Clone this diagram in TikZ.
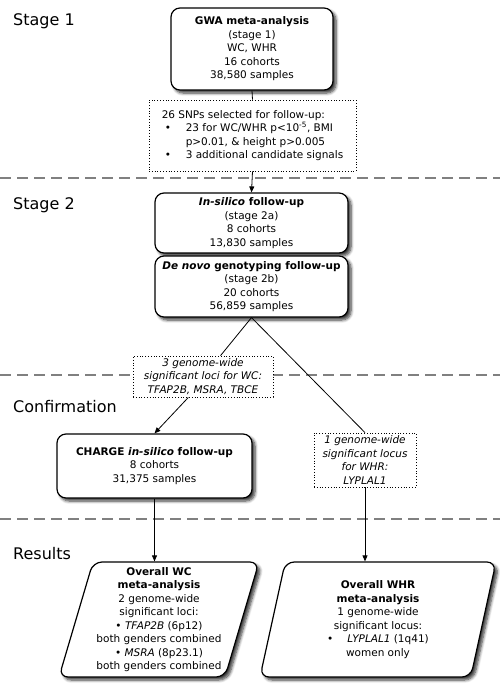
\documentclass[tikz,border=0pt]{standalone}
\usepackage{fontspec}
\setmainfont{DejaVu Sans}
\usetikzlibrary{arrows.meta,shadows.blur,shapes.geometric}

\begin{document}
\begin{tikzpicture}[x=1pt,y=-1pt,
  every node/.style={font=\fontsize{10.5}{13.5}\selectfont, align=center, inner sep=0pt},
  stagebox/.style={draw, line width=1.2pt, rounded corners=9pt, fill=white,
    blur shadow={shadow xshift=3pt, shadow yshift=-3pt, shadow blur radius=3pt,
      shadow blur steps=6, shadow opacity=80}},
  notebox/.style={draw, dotted, line width=0.8pt, fill=white},
  resultbox/.style={stagebox, trapezium, trapezium stretches body,
    trapezium left angle=72, trapezium right angle=108},
  stagelabel/.style={font=\fontsize{16}{19}\selectfont, anchor=base west},
  sep/.style={draw=gray, line width=1.6pt, dash pattern=on 11pt off 6pt},
  link/.style={line width=0.8pt},
  arr/.style={link, -{Triangle[length=6pt,width=5pt]}}]
\useasboundingbox (0,0) rectangle (500,686);

\draw [sep] (0,178) -- (500,178);
\draw [sep] (0,375) -- (500,375);
\draw [sep] (0,519) -- (500,519);

\node [stagelabel] (st1) at (13,25) {Stage 1};
\node [stagelabel] (st2) at (13,209) {Stage 2};
\node [stagelabel] (conf) at (13,412) {Confirmation};
\node [stagelabel] (res) at (13,559) {Results};

\node [stagebox, minimum width=162, minimum height=82] (gwa) at (252,49)
  {\textbf{GWA meta-analysis}\\(stage 1)\\WC, WHR\\16 cohorts\\38,580 samples};
\node [notebox, minimum width=207, minimum height=71, align=left] (snps) at (252.5,135.5)
  {26 SNPs selected for follow-up:\\
   \makebox[24pt][l]{\hspace{3pt}\textbullet}23 for WC/WHR p<10\textsuperscript{-5}, BMI\\
   \hspace*{24pt}p>0.01, \& height p>0.005\\
   \makebox[24pt][l]{\hspace{3pt}\textbullet}3 additional candidate signals};
\node [stagebox, minimum width=193, minimum height=60] (insilico) at (251.5,223)
  {\textbf{\textit{In-silico} follow-up}\\(stage 2a)\\8 cohorts\\13,830 samples};
\node [stagebox, minimum width=193, minimum height=61] (denovo) at (251.5,286.5)
  {\textbf{\textit{De novo} genotyping follow-up}\\(stage 2b)\\20 cohorts\\56,859 samples};
\node [notebox, minimum width=140, minimum height=41, font=\fontsize{10.5}{13.5}\selectfont\itshape] (wcloci) at (203,376.5)
  {3 genome-wide\\significant loci for WC:\\TFAP2B, MSRA, TBCE};
\node [notebox, minimum width=102, minimum height=54, font=\fontsize{10.5}{13.5}\selectfont\itshape] (whrlocus) at (365,460)
  {1 genome-wide\\significant locus\\for WHR:\\LYPLAL1};
\node [stagebox, minimum width=195, minimum height=64] (charge) at (154.5,466)
  {\textbf{CHARGE \textit{in-silico} follow-up}\\8 cohorts\\31,375 samples};
\node [resultbox, minimum width=200, minimum height=115] (wcres) at (159,619.5)
  {\textbf{Overall WC}\\\textbf{meta-analysis}\\2 genome-wide\\significant loci:\\
   \textbullet\ \textit{TFAP2B} (6p12)\\both genders combined\\
   \textbullet\ \textit{MSRA} (8p23.1)\\both genders combined};
\node [resultbox, minimum width=236, minimum height=115] (whrres) at (378,619.5)
  {\textbf{Overall WHR}\\\textbf{meta-analysis}\\1 genome-wide\\significant locus:\\
   \textbullet\hspace{14pt}\textit{LYPLAL1} (1q41)\\women only};

\draw [link] (gwa.south) -- (snps.north);
\draw [arr] (snps.south) -- (insilico.north);
\draw [link] (denovo.south) -- (wcloci.50);
\draw [link] (denovo.south) -- (whrlocus.north);
\draw [arr] (wcloci.-125) -- (charge.north);
\draw [arr] (charge.south) -- (charge.south |- wcres.north);
\draw [arr] (whrlocus.south) -- (whrlocus.south |- whrres.north);
\end{tikzpicture}
\end{document}
